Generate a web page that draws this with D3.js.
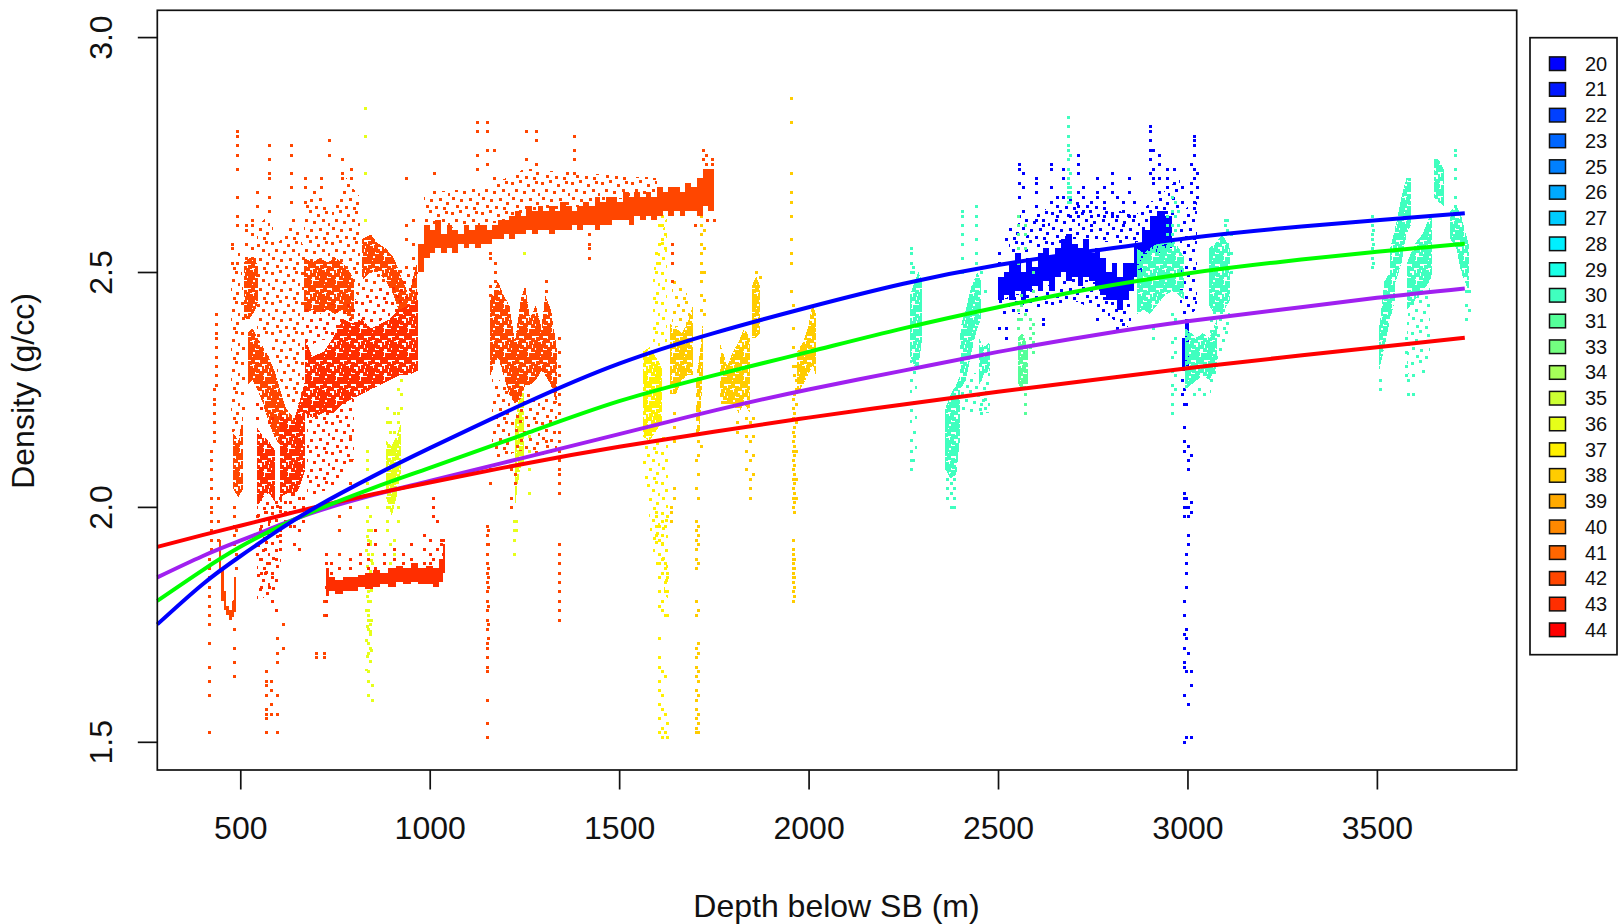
<!DOCTYPE html>
<html><head><meta charset="utf-8">
<script src="https://cdn.jsdelivr.net/npm/d3@7"></script>
<style>html,body{margin:0;background:#fff}svg{display:block}text{font-family:"Liberation Sans",Arial,sans-serif;fill:#111}</style>
</head><body><svg id="c" width="1619" height="924"></svg>
<script>
const legendLabels=[20,21,22,23,25,26,27,28,29,30,31,33,34,35,36,37,38,39,40,41,42,43,44];
const legendColors=["#0000FF","#0017FF","#0040FF","#0066FF","#0080FF","#00AAFF","#00CCFF","#00F0FF","#19FFE6","#40FFBF","#55FF99","#73FF80","#A6FF59","#CCFF33","#E6FF19","#FFF000","#FFCC00","#FFAA00","#FF8800","#FF6600","#FF4600","#FF2E00","#FF0000"];
const xTicks=[500,1000,1500,2000,2500,3000,3500];
const yTicks=[1.5,2.0,2.5,3.0];
const depthKnots=[281,400,500,600,700,850,1000,1250,1500,1750,2000,2250,2500,2750,3000,3250,3500,3732];
const fitBlue=[1.75,1.835,1.895,1.95,2.0,2.065,2.125,2.22,2.305,2.37,2.425,2.475,2.515,2.545,2.572,2.593,2.61,2.625];
const fitGreen=[1.80,1.865,1.915,1.957,1.993,2.04,2.083,2.155,2.225,2.28,2.33,2.38,2.425,2.465,2.497,2.522,2.543,2.56];
const fitPurple=[1.85,1.895,1.928,1.96,1.99,2.025,2.055,2.105,2.155,2.205,2.25,2.29,2.33,2.365,2.395,2.42,2.445,2.465];
const fitRed=[1.915,1.94,1.96,1.98,2.0,2.027,2.052,2.092,2.128,2.16,2.19,2.218,2.245,2.27,2.295,2.318,2.34,2.36];

// solid cores: [depth, low, high]
const core42a=[[970,2.50,2.56],[985,2.53,2.60],[1000,2.54,2.59],[1015,2.55,2.61],[1030,2.54,2.58],[1045,2.55,2.60],[1060,2.54,2.59],[1075,2.56,2.58],[1090,2.55,2.60],[1105,2.56,2.59],[1120,2.55,2.60],[1135,2.56,2.60],[1150,2.56,2.59],[1165,2.57,2.60],[1180,2.57,2.61],[1195,2.58,2.61],[1210,2.57,2.62],[1225,2.58,2.63],[1240,2.58,2.62],[1255,2.59,2.64],[1270,2.58,2.63],[1285,2.59,2.64],[1300,2.59,2.63],[1315,2.58,2.64],[1330,2.59,2.63],[1345,2.59,2.65],[1360,2.59,2.64],[1375,2.60,2.63],[1390,2.59,2.64],[1405,2.60,2.65],[1420,2.60,2.64],[1435,2.59,2.66],[1450,2.60,2.65],[1465,2.60,2.66],[1480,2.61,2.66],[1495,2.61,2.65],[1510,2.61,2.67],[1525,2.60,2.66],[1540,2.62,2.67],[1555,2.61,2.66],[1570,2.62,2.67],[1585,2.61,2.66],[1600,2.62,2.68],[1615,2.63,2.67],[1630,2.62,2.68],[1645,2.63,2.68],[1660,2.62,2.67],[1675,2.63,2.69],[1690,2.63,2.68],[1705,2.62,2.70],[1720,2.64,2.72],[1735,2.63,2.72],[1750,2.64,2.73]];
const core42u=[[444,1.86,1.93],[450,1.80,1.87],[456,1.78,1.82],[462,1.77,1.79],[470,1.76,1.78],[478,1.765,1.80],[484,1.78,1.85],[489,1.81,1.90]];
const core43a=[[725,1.81,1.87],[735,1.82,1.85],[750,1.815,1.845],[770,1.82,1.85],[790,1.82,1.85],[810,1.83,1.855],[830,1.825,1.86],[850,1.83,1.865],[870,1.835,1.86],[890,1.83,1.87],[910,1.84,1.875],[930,1.835,1.87],[950,1.84,1.88],[970,1.835,1.87],[990,1.835,1.875],[1010,1.83,1.87],[1025,1.84,1.89],[1035,1.86,1.92],[1040,1.87,1.91]];
const core20a=[[2500,2.44,2.49],[2515,2.45,2.50],[2530,2.44,2.52],[2545,2.46,2.54],[2560,2.44,2.50],[2575,2.46,2.53],[2590,2.47,2.51],[2605,2.46,2.54],[2620,2.48,2.55],[2635,2.46,2.53],[2650,2.49,2.55],[2665,2.50,2.57],[2680,2.48,2.58],[2695,2.49,2.56],[2710,2.47,2.55],[2725,2.49,2.57],[2740,2.48,2.54],[2755,2.47,2.55],[2770,2.45,2.53],[2785,2.44,2.50],[2800,2.44,2.52],[2815,2.42,2.49],[2830,2.44,2.52],[2845,2.46,2.52],[2860,2.49,2.56],[2880,2.52,2.59],[2900,2.54,2.62],[2920,2.54,2.63],[2940,2.55,2.62],[2960,2.54,2.60]];
const core20b=[[2986,2.29,2.36],[2994,2.30,2.40],[3004,2.34,2.42]];

// closely packed readings: [depth, low, high]
const dense42b=[[520,2.26,2.37],[532,2.27,2.38],[545,2.25,2.36],[560,2.22,2.34],[575,2.18,2.32],[590,2.15,2.29],[605,2.13,2.25],[620,2.11,2.21],[640,2.05,2.19],[660,2.07,2.17]];
const dense42c=[[510,2.40,2.52],[525,2.40,2.53],[540,2.42,2.53],[548,2.44,2.50]];
const dense42d=[[668,2.41,2.53],[690,2.42,2.52],[710,2.41,2.53],[730,2.42,2.52],[750,2.41,2.53],[770,2.42,2.52],[790,2.40,2.50],[800,2.40,2.48]];
const dense42e=[[820,2.48,2.57],[845,2.50,2.58],[865,2.50,2.56],[885,2.48,2.55],[905,2.45,2.53],[925,2.40,2.49],[945,2.38,2.45],[966,2.42,2.52]];
const dense42f=[[1160,2.28,2.44],[1180,2.32,2.48],[1195,2.28,2.45],[1210,2.24,2.43],[1225,2.22,2.35],[1240,2.23,2.44],[1252,2.26,2.47],[1265,2.26,2.40],[1280,2.27,2.43],[1295,2.29,2.38],[1305,2.28,2.45],[1320,2.26,2.42],[1335,2.22,2.34]];
const dense42g=[[480,2.04,2.16],[495,2.02,2.14],[508,2.04,2.20]];
const dense43b=[[670,2.20,2.36],[690,2.19,2.32],[720,2.20,2.33],[745,2.20,2.36],[770,2.22,2.40],[795,2.23,2.39],[820,2.24,2.40],[845,2.25,2.38],[870,2.26,2.39],[895,2.27,2.40],[920,2.28,2.42],[945,2.28,2.43],[968,2.29,2.44]];
const dense43c=[[543,2.0,2.17],[560,2.02,2.15],[575,2.03,2.14],[592,2.01,2.12]];
const dense43d=[[606,2.02,2.20],[625,2.03,2.19],[640,2.02,2.18],[655,2.04,2.22],[672,2.08,2.27]];
const dense36a=[[885,2.02,2.14],[900,1.98,2.13],[912,2.02,2.15],[925,2.08,2.18]];
const dense36b=[[1225,2.0,2.18],[1238,2.08,2.24],[1250,2.10,2.30]];
const dense37a=[[1562,2.15,2.33],[1580,2.14,2.34],[1596,2.16,2.32],[1612,2.18,2.30]];
const dense38a=[[1634,2.24,2.39],[1650,2.24,2.38],[1665,2.27,2.37],[1680,2.28,2.39],[1695,2.28,2.43]];
const dense38b=[[1766,2.22,2.35],[1785,2.22,2.30],[1800,2.22,2.33],[1815,2.20,2.35],[1830,2.22,2.38],[1845,2.20,2.36]];
const dense38c=[[1850,2.36,2.47],[1862,2.36,2.49],[1872,2.37,2.47]];
const dense38d=[[1970,2.24,2.33],[1985,2.26,2.35],[1998,2.28,2.38],[2010,2.30,2.43],[2020,2.28,2.41]];
const dense38e=[[1702,2.15,2.27],[1712,2.16,2.32],[1722,2.30,2.40]];
const dense30a=[[2268,2.32,2.45],[2280,2.30,2.48],[2290,2.30,2.50],[2300,2.36,2.48]];
const dense30b=[[2361,2.08,2.21],[2375,2.06,2.24],[2390,2.07,2.26],[2400,2.15,2.28]];
const dense30c=[[2400,2.25,2.38],[2415,2.27,2.42],[2430,2.33,2.47],[2445,2.38,2.50],[2455,2.40,2.48]];
const dense30d=[[2450,2.26,2.36],[2462,2.28,2.34],[2478,2.29,2.35]];
const dense30e=[[2866,2.41,2.55],[2885,2.42,2.54],[2900,2.41,2.55],[2920,2.43,2.56],[2940,2.45,2.57],[2960,2.46,2.57],[2978,2.45,2.55],[2992,2.44,2.53]];
const dense30f=[[2994,2.25,2.38],[3010,2.26,2.37],[3025,2.27,2.36],[3040,2.28,2.37],[3058,2.27,2.36],[3078,2.30,2.40]];
const dense30g=[[3056,2.43,2.55],[3072,2.41,2.56],[3092,2.41,2.58],[3112,2.44,2.55]];
const dense30h=[[3506,2.29,2.38],[3520,2.34,2.48],[3535,2.40,2.50],[3548,2.44,2.55]];
const dense30i=[[3535,2.45,2.55],[3550,2.48,2.60],[3565,2.52,2.66],[3578,2.58,2.70],[3590,2.60,2.70]];
const dense30j=[[3580,2.42,2.52],[3600,2.44,2.56],[3620,2.46,2.58],[3640,2.48,2.62],[3646,2.50,2.62]];
const dense30k=[[3650,2.66,2.74],[3662,2.65,2.74],[3676,2.64,2.72]];
const dense30l=[[3694,2.57,2.63],[3710,2.55,2.64],[3722,2.50,2.62],[3742,2.46,2.56]];
const dense31a=[[2552,2.26,2.36],[2566,2.25,2.37],[2578,2.26,2.34]];

// thinly spread readings: [depth, low, high]
const thin42a=[[476,2.15,2.50],[500,2.18,2.58],[512,2.20,2.40]];
const thin42b=[[545,2.36,2.60],[575,2.36,2.62],[600,2.28,2.56],[640,2.20,2.62],[668,2.24,2.55]];
const thin42c=[[668,2.52,2.64],[700,2.52,2.68],[740,2.52,2.62],[780,2.50,2.70],[815,2.44,2.66]];
const thin42d=[[820,2.40,2.50],[880,2.42,2.50],[965,2.42,2.52]];
const thin42e=[[1165,2.10,2.28],[1240,2.12,2.24],[1335,2.10,2.24]];
const thin42f=[[985,2.59,2.67],[1150,2.60,2.68],[1250,2.62,2.72],[1400,2.64,2.71],[1600,2.67,2.70]];
const thin43a=[[545,1.80,2.02],[595,1.82,2.01],[610,1.90,2.02]];
const thin43b=[[675,2.02,2.22],[740,2.04,2.21],[800,2.10,2.24]];
const thin43c=[[670,2.34,2.42],[800,2.38,2.44],[968,2.42,2.50]];
const thin36a=[[830,1.65,1.96],[850,1.65,1.96]];
const thin37a=[[1564,2.08,2.15],[1590,1.90,2.14],[1628,1.80,2.16]];
const thin37b=[[1590,2.33,2.50],[1625,2.33,2.62]];
const thin38a=[[1640,2.38,2.50],[1690,2.39,2.44]];
const thin30a=[[2268,2.12,2.32],[2285,2.12,2.30]];
const thin30b=[[2400,2.20,2.27],[2480,2.20,2.30]];
const thin30c=[[3060,2.24,2.42],[3112,2.38,2.44]];
const thin30d=[[3580,2.28,2.42],[3640,2.32,2.48]];
const thin20a=[[2500,2.40,2.44],[2700,2.44,2.49],[2850,2.38,2.46]];
const thin20b=[[2530,2.53,2.60],[2700,2.57,2.66],[2860,2.56,2.62],[2980,2.62,2.70]];
const thin20c=[[2980,2.40,2.62],[3026,2.42,2.66]];

// single readings: [depth, density, density, ...]
const dots43=[
[725,1.77,1.80,1.83,1.88,1.90],[740,1.86,1.88],[760,1.87],[790,1.87,1.89],[815,1.88,1.90],[836,1.87,1.89,1.92],[856,1.87,1.92,1.95],[880,1.88,1.90],[905,1.89,1.91],[930,1.88,1.90],[950,1.89,1.92],[985,1.88,1.91,1.94],[1000,1.88,1.90,1.93],[1010,1.89,1.98,2.02,2.0],[1020,1.91,1.97],[1030,1.92,1.93],[1036,1.93,1.90],
[545,1.98,2.19,2.22,1.90,1.94],[555,1.96,2.21,1.86,1.89,1.83],[565,1.99,1.91,1.93,1.86],[575,1.95,1.97,2.18,1.83,1.88],[585,2.0,2.19,1.85,1.80],[595,1.96,2.01,1.89,1.78],[605,2.0,2.02,1.91,1.94],[618,1.99,2.01,1.97],[630,1.96,1.99,2.01],[642,1.92,1.96,2.0],[655,1.95,1.91,2.02],[665,1.97,2.0,2.02]
];
const dots42=[
[418,1.52,1.60,1.63,1.66,1.71,1.75,1.77,1.79,1.81,1.83,1.85,1.87,1.89],[424,1.91,1.93,1.95,1.97,1.99,2.0,2.02,2.04,2.06,2.08,2.10,2.12],[430,2.14,2.16,2.18,2.20,2.22,2.23,2.25],[436,2.26,2.28,2.30,2.32,2.34,2.36,2.37,2.39,2.41],[441,2.02,1.97,1.93],
[484,1.64,1.67,1.70,1.74,1.78,1.80,1.96,1.98,2.0,1.92,1.94],[490,1.87,1.90,1.95],[492,2.80,2.79,2.77,2.75,2.72,2.66,2.62,2.60],[478,2.52,2.55,2.56],[515,2.53,2.56,2.59,2.60],[530,2.53,2.55,2.58,2.60,2.61],
[568,1.52,1.55,1.56,1.57,1.60,1.62,1.63,1.65],[582,1.56,1.58,1.61,1.63],[597,1.52,1.56,1.60,1.67,1.69,1.72],[612,1.75,1.70],
[575,2.77,2.74,2.71,2.70,2.66,2.63],[634,2.77,2.75,2.71,2.68,2.65],[545,2.67,2.64],[672,2.70,2.68,2.65],[712,2.68,2.70],[734,2.78,2.75],[768,2.74,2.71,2.70],[792,2.72,2.70],
[790,2.15,2.1,2.05,2.0],[760,1.95,1.90,1.98],[720,1.68,1.69,1.77,1.80],[700,1.68,1.69],[938,2.70,2.60,2.57],[955,2.61,2.56,2.53],[1012,2.71],
[1125,2.82,2.80,2.75,2.72],[1150,2.82,2.80,2.76,2.73],[1170,2.76,2.70],[1160,2.54,2.53],[1255,2.80,2.74],[1280,2.80,2.78,2.73],[1380,2.79,2.76,2.74,2.71],[1420,2.58,2.56,2.55,2.53],[1640,2.56,2.54,2.52,2.48],[1722,2.76,2.74],[1730,2.75,2.73],[1745,2.74,2.73],[1750,2.61],[1700,2.60],[1732,2.61],
[1150,1.51,1.54,1.59,1.65,1.66,1.68,1.70,1.71,1.74,1.76,1.78,1.80,1.82,1.84,1.86,1.88,1.90,1.92,1.94,1.96],[1155,1.72,1.75,1.79,1.83,1.85,1.87,1.92,1.95],[1160,2.05,2.08,2.45,2.47],[1172,2.46,2.48,2.50,2.52],[1215,2.02,2.0,2.08],[1226,2.07,2.05],[1308,2.46,2.48,2.14],
[1340,1.76,1.78,1.80,1.82,1.84,1.86,1.88,1.90,1.92,2.03,2.05,2.07,2.08,2.10,2.12,2.14,2.16,2.20,2.22,2.24,2.28,2.30,2.33,2.36]
];
const dots36=[
[830,2.85,2.79,2.71,2.61],[838,1.60,1.63,1.65,1.69,1.71,1.74,1.76,1.77,1.78,1.80,1.82,1.84,1.87,1.90,1.93,1.95],[843,1.70,1.73,1.75,1.80,1.83,1.86,1.92,1.98],[835,1.97,2.0,2.05,2.08,2.10,2.12],[847,1.62,1.59,1.88,1.90],
[888,1.95,2.18,2.21,1.97,2.0],[895,1.92,1.88,2.16,2.18],[905,1.90,1.93,2.16,2.20],[915,1.97,2.0,2.18,2.20,2.25],[925,2.27,2.24,2.21],
[1222,1.90,1.93,1.95,1.97],[1228,1.95,1.97],[1234,2.26,2.29,2.31],[1250,2.54],[1262,2.03,2.08,2.12,2.15]
];
const dots37=[
[1598,1.98,1.96,1.94,2.54],[1606,1.52,1.55,1.58,1.61,1.63,1.66,1.68,1.72,1.79,1.82,1.85,1.88,1.90,1.93,1.96,2.52,2.56,2.60],[1612,1.51,1.53,1.57,1.60,1.65,1.78,1.80,1.86,1.89,1.92,1.94,1.97,2.57,2.60,2.62],[1620,1.52,1.56,1.64,1.77,1.82,1.84,1.87,1.88,1.96,2.58,2.55],[1626,1.51,1.54,1.77,1.82,1.85,1.86,1.98]
];
const dots38=[
[1636,1.97,1.99,2.0],[1644,2.02,2.04,2.14,2.17,2.20],[1702,1.52,1.53,1.55,1.57,1.59,1.61,1.64,1.66,1.68,1.70,1.77,1.80,1.87,1.89,1.91,1.93,1.95,1.97,2.04,2.1],[1708,1.52,1.54,1.56,1.60,1.63,1.65,1.69,1.71,1.78,1.88,1.92,1.94,1.96,2.02,2.07,2.11,2.14],[1716,2.13,2.42,2.45,2.48,2.50,2.52,2.54,2.56,2.58,2.60,2.62,2.64,2.66,2.68],[1724,2.41,2.44,2.50,2.55,2.59],
[1810,2.16,2.18],[1836,2.08,2.12,2.15,2.19],[1845,2.02,2.04,2.06,2.10,2.14,2.18],[1852,2.07,2.11,2.15,2.19],[1860,2.48,2.50],[1872,2.49],
[1954,2.87,2.82,2.71,2.67,2.65,2.62,2.57,2.54,2.52,2.46],[1958,1.80,1.82,1.84,1.85,1.86,1.87,1.88,1.89,1.90,1.91,1.93,2.0,2.02,2.04,2.06,2.08,2.10,2.12,2.14,2.16,2.19,2.21,2.23,2.38,2.34,2.30,2.43],[1962,1.81,1.83,1.85,1.87,1.89,1.99,2.01,2.03,2.05,2.07,2.09,2.11,2.13,2.15,2.17,2.20,2.24,2.28],[1966,2.02,2.06,2.12,2.18,2.22,2.25,2.27,2.30]
];
const dots30=[
[2270,2.08,2.10,2.12,2.50,2.52,2.54,2.55],[2276,2.10,2.50,2.51],
[2366,2.04,2.02,2.06,2.08],[2376,2.0,2.03,2.05,2.07],[2385,2.0,2.02,2.04,2.06],
[2405,2.50,2.53,2.56,2.58,2.60,2.62,2.63],[2443,2.52,2.54,2.57,2.60,2.62,2.64],[2456,2.20,2.22,2.50],[2466,2.21,2.23,2.46],
[2686,2.83,2.81,2.79,2.77,2.76,2.74,2.72,2.70,2.69,2.68,2.66,2.65,2.67],[2690,2.75,2.71,2.68,2.67,2.66,2.65],
[2910,2.38,2.36],[2945,2.58,2.60,2.62],[2958,2.66,2.63,2.60,2.58,2.41,2.35,2.32,2.29,2.26,2.24,2.22,2.20],[2966,2.65,2.62,2.59,2.40,2.36,2.33,2.28,2.25],[2974,2.63,2.60],
[3018,2.24],[3030,2.25],[3044,2.24],[3098,2.60,2.61,2.58],[3104,2.56,2.59,2.61],[3115,2.50,2.54,2.58],
[3486,2.51,2.53,2.55,2.57,2.58,2.60,2.62],[3490,2.52,2.56,2.59,2.61],[3508,2.25,2.27],[3576,2.28,2.30,2.33,2.36],[3582,2.24,2.27],[3594,2.24,2.28],[3622,2.29],[3705,2.64,2.66,2.70,2.72,2.75,2.76],[3734,2.40,2.43,2.46],[3742,2.42,2.46]
];
const dots31=[
[2552,2.52,2.55,2.58,2.60,2.62,2.38,2.40,2.42],[2560,2.40,2.43,2.45],[2572,2.20,2.22,2.24,2.41,2.55,2.58,2.60],[2585,2.34,2.36,2.38,2.40],[2592,2.33,2.35,2.37,2.39,2.46,2.50]
];
const dots20=[
[2503,2.38,2.52,2.54],[2520,2.36,2.38,2.57],[2555,2.62,2.66,2.69,2.72,2.73],[2566,2.63,2.68,2.71],[2600,2.61,2.64,2.67,2.69,2.70],[2618,2.39,2.40,2.60],[2640,2.65,2.68,2.72,2.73],[2655,2.62,2.64,2.66],[2672,2.66,2.72,2.70],[2690,2.62,2.65,2.67],[2710,2.62,2.64,2.67,2.75,2.73,2.71],[2725,2.63,2.66,2.68],[2745,2.60,2.62,2.65],[2762,2.40,2.66,2.70,2.67],[2780,2.62,2.65,2.68],[2800,2.62,2.67,2.69,2.71],[2815,2.38,2.62,2.66],[2830,2.39,2.60,2.63,2.65],[2845,2.62,2.67,2.70],[2860,2.62,2.65],[2900,2.71,2.74,2.76,2.78,2.80,2.81],[2908,2.69,2.72,2.70,2.76],[2925,2.70,2.73,2.75,2.67],[2945,2.68,2.70,2.72],[2965,2.69,2.72],
[2985,2.24,2.27,2.65,2.68],[2990,1.50,1.60,1.66,1.67,1.70,1.73,1.77,1.80,1.98,2.0,2.02,2.03,2.12,2.14,2.17,2.22,2.25],[2996,1.51,1.65,1.72,1.74,1.83,1.86,1.88,1.90,2.0,2.02,2.22,2.27],[3002,1.58,1.69,1.92,1.94,1.98,2.0,2.08,2.10,2.13],[3010,1.51,1.62,1.65,1.99,2.01,2.11,2.67,2.69,2.73],[3018,2.65,2.70,2.72,2.75,2.77,2.78,2.79],[3024,2.66,2.68,2.71]
];
const xDomain=[281,3869],yDomain=[1.44,3.057];
const groups=[
 {id:"g20",c:"#0000FF",solid:[core20a,core20b],dense:[],thin:[thin20a,thin20b,thin20c],dots:dots20},
 {id:"g30",c:"#40FFBF",solid:[],dense:[dense30a,dense30b,dense30c,dense30d,dense30e,dense30f,dense30g,dense30h,dense30i,dense30j,dense30k,dense30l],thin:[thin30a,thin30b,thin30c,thin30d],dots:dots30},
 {id:"g31",c:"#55FF99",solid:[],dense:[dense31a],thin:[],dots:dots31},
 {id:"g36",c:"#E6FF19",solid:[],dense:[dense36a,dense36b],thin:[thin36a],dots:dots36},
 {id:"g37",c:"#FFF000",solid:[],dense:[dense37a],thin:[thin37a,thin37b],dots:dots37},
 {id:"g38",c:"#FFCC00",solid:[],dense:[dense38a,dense38b,dense38c,dense38d,dense38e],thin:[thin38a],dots:dots38},
 {id:"g42",c:"#FF4600",solid:[core42a,core42u],dense:[dense42b,dense42c,dense42d,dense42e,dense42f,dense42g],thin:[thin42a,thin42b,thin42c,thin42d,thin42e,thin42f],dots:dots42},
 {id:"g43",c:"#FF2E00",solid:[core43a],dense:[dense43b,dense43c,dense43d],thin:[thin43a,thin43b,thin43c],dots:dots43}
];
// stipple tiles: texture for the closely packed and thinly spread clouds
const tileDense=[[0,0],[3,2],[8,1],[11,0],[15,2],[20,0],[1,5],[6,4],[9,6],[14,5],[18,3],[22,6],[0,9],[5,8],[8,10],[12,8],[16,9],[20,11],[3,12],[7,14],[11,12],[15,14],[19,13],[22,10],[1,17],[5,17],[9,16],[13,18],[17,17],[21,16],[0,21],[4,20],[8,20],[11,21],[15,21],[19,20],[22,21]];
const tileThin=[[1,2],[9,0],[17,4],[25,1],[5,9],[13,11],[22,9],[28,13],[2,17],[10,19],[19,18],[26,22],[6,25],[15,26],[23,27]];
const L=157.3,R=1516.7,T=10.3,B=770;
const svg=d3.select("#c");
const defs=svg.append("defs");
groups.forEach(g=>{
  [["d",tileDense,24,4],["t",tileThin,30,3]].forEach(([k,tile,n,s])=>{
    const p=defs.append("pattern").attr("id",g.id+k).attr("patternUnits","userSpaceOnUse").attr("width",n).attr("height",n);
    tile.forEach(q=>p.append("rect").attr("x",q[0]).attr("y",q[1]).attr("width",s).attr("height",s).attr("fill",g.c));
  });
});
const x=d3.scaleLinear().domain(xDomain).range([L,R]);
const y=d3.scaleLinear().domain(yDomain).range([B,T]);
const plot=svg.append("g");
const area=d3.area().x(d=>x(d[0])).y0(d=>y(d[1])).y1(d=>y(d[2])).curve(d3.curveStepAfter);
const areaSmooth=d3.area().x(d=>x(d[0])).y0(d=>y(d[1])).y1(d=>y(d[2])).curve(d3.curveLinear);
groups.forEach(g=>{
  plot.selectAll(null).data(g.thin).enter().append("path").attr("d",areaSmooth).attr("fill",`url(#${g.id}t)`).attr("shape-rendering","crispEdges");
  plot.selectAll(null).data(g.dense).enter().append("path").attr("d",areaSmooth).attr("fill",`url(#${g.id}d)`).attr("shape-rendering","crispEdges");
  plot.selectAll(null).data(g.solid).enter().append("path").attr("d",area).attr("fill",g.c).attr("shape-rendering","crispEdges");
  const pts=g.dots.flatMap(r=>r.slice(1).map(v=>[r[0],v]));
  plot.selectAll(null).data(pts).enter().append("rect")
    .attr("x",d=>Math.round(x(d[0]))-1).attr("y",d=>Math.round(y(d[1]))-1)
    .attr("width",3).attr("height",3).attr("fill",g.c).attr("shape-rendering","crispEdges");
});
const ln=d3.line().x((d,i)=>x(depthKnots[i])).y(d=>y(d)).curve(d3.curveNatural);
[["#A020F0",fitPurple],["#FF0000",fitRed],["#00FF00",fitGreen],["#0000FF",fitBlue]].forEach(([c,s])=>{
  svg.append("path").attr("d",ln(s)).attr("fill","none").attr("stroke",c).attr("stroke-width",4);
});
svg.append("rect").attr("x",L).attr("y",T).attr("width",R-L).attr("height",B-T).attr("fill","none").attr("stroke","#111").attr("stroke-width",1.7);
const xa=svg.append("g").attr("transform",`translate(0,${B})`).call(d3.axisBottom(x).tickValues(xTicks).tickSize(19.5).tickSizeOuter(0).tickFormat(d3.format("d")));
const ya=svg.append("g").attr("transform",`translate(${L},0)`).call(d3.axisLeft(y).tickValues(yTicks).tickSize(19.5).tickSizeOuter(0).tickFormat(d3.format(".1f")));
[xa,ya].forEach(a=>{a.select(".domain").remove();a.selectAll("line").attr("stroke","#111").attr("stroke-width",1.7);a.selectAll("text").attr("font-size",32).attr("fill","#111").style("font-family",'"Liberation Sans",Arial,sans-serif');});
xa.selectAll("text").attr("dy",null).attr("y",69);
ya.selectAll("text").attr("x",null).attr("dy",null).attr("y",null).attr("text-anchor","middle").attr("transform","translate(-45.3,0) rotate(-90)");
svg.append("text").attr("x",836.5).attr("y",917).attr("text-anchor","middle").attr("font-size",32).text("Depth below SB (m)");
svg.append("text").attr("transform","translate(34,391) rotate(-90)").attr("text-anchor","middle").attr("font-size",32).text("Density (g/cc)");
svg.append("rect").attr("x",1530).attr("y",37.7).attr("width",87).attr("height",617).attr("fill","#fff").attr("stroke","#111").attr("stroke-width",1.7);
const ly=d3.scalePoint().domain(legendLabels).range([63.7,629.8]);
legendLabels.forEach((l,i)=>{
  svg.append("rect").attr("x",1549.5).attr("y",ly(l)-6.8).attr("width",16).attr("height",13.6).attr("fill",legendColors[i]).attr("stroke","#111").attr("stroke-width",1.5);
  svg.append("text").attr("x",1585).attr("y",ly(l)+7).attr("font-size",20).text(l);
});
</script></body></html>
